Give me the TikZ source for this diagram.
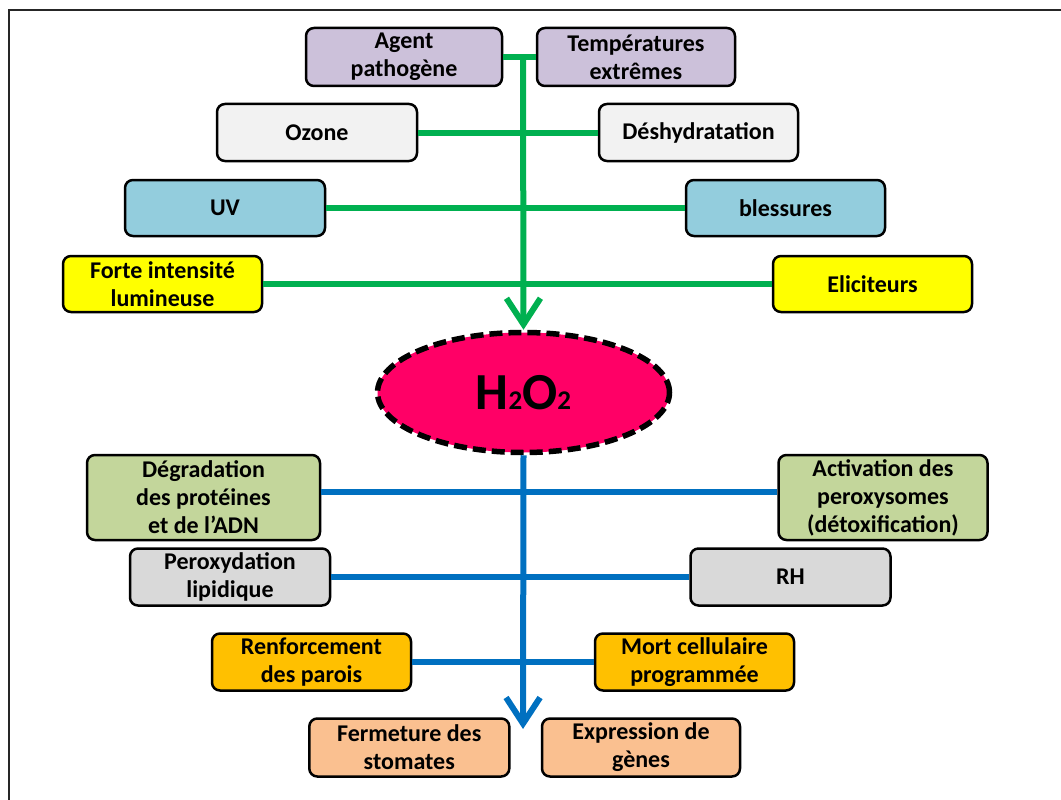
\documentclass[tikz,border=0pt]{standalone}
\usepackage{fontspec}
\setmainfont{Carlito}
\usetikzlibrary{arrows.meta,shapes.geometric}

\definecolor{lavender}{HTML}{CCC1DA}
\definecolor{paleGray}{HTML}{F2F2F2}
\definecolor{skyBlue}{HTML}{93CDDD}
\definecolor{brightYellow}{HTML}{FFFF00}
\definecolor{oliveGreen}{HTML}{C3D69B}
\definecolor{midGray}{HTML}{D9D9D9}
\definecolor{gold}{HTML}{FFC000}
\definecolor{peach}{HTML}{FAC090}
\definecolor{hotPink}{HTML}{FF0066}
\definecolor{causeGreen}{HTML}{00B050}
\definecolor{effectBlue}{HTML}{0070C0}

\tikzset{
  box/.style={draw=black, line width=2.5pt, rounded corners=8pt, align=center,
    inner sep=0pt, font=\fontsize{24}{28}\selectfont\bfseries},
  wbox/.style 2 args={box, minimum width=#1pt, minimum height=#2pt},
  cause/.style={draw=causeGreen, line width=6pt},
  effect/.style={draw=effectBlue, line width=6pt},
  barb/.style={-{Straight Barb[length=26pt, width=34pt]}},
}

\begin{document}
\begin{tikzpicture}[x=1pt, y=-1pt]
\useasboundingbox (0,0) rectangle (1061,800);

% outer frame
\draw[line width=1.5pt, black!85] (1061,10) -- (9,10) -- (9,800);

% central molecule
\node[ellipse, draw=black, fill=hotPink, line width=5.5pt, dash pattern=on 13pt off 6pt,
      minimum width=292pt, minimum height=120pt, inner sep=0pt,
      font=\fontsize{52}{52}\selectfont\bfseries] (h2o2) at (523.5,392.5)
      {H{\fontsize{27}{27}\selectfont 2}O{\fontsize{27}{27}\selectfont 2}};

% causes
\node[wbox={196}{58}, fill=lavender] (agent) at (404,57) {Agent\\pathogène};
\node[wbox={198}{58}, fill=lavender] (temp) at (636,57) {Températures\\extrêmes};
\node[wbox={200}{57}, fill=paleGray] (ozone) at (317,132.5) {Ozone};
\node[wbox={199}{57}, fill=paleGray] (desh) at (698.5,132.5) {Déshydratation};
\node[wbox={200}{56}, fill=skyBlue] (uv) at (225,208) {UV};
\node[wbox={199}{56}, fill=skyBlue] (bless) at (785.5,208) {blessures};
\node[wbox={199}{56}, fill=brightYellow] (forte) at (162.5,284) {Forte intensité\\lumineuse};
\node[wbox={199}{56}, fill=brightYellow] (elic) at (872.5,284) {Eliciteurs};

% effects
\node[wbox={233}{85}, fill=oliveGreen] (degr) at (203.5,497.5) {Dégradation\\des protéines\\et de l’ADN};
\node[wbox={209}{85}, fill=oliveGreen] (activ) at (883,497.5) {Activation des\\peroxysomes\\(détoxification)};
\node[wbox={200}{57}, fill=midGray] (perox) at (230,577) {Peroxydation\\lipidique};
\node[wbox={200}{57}, fill=midGray] (rh) at (790.5,577) {RH};
\node[wbox={199}{57}, fill=gold] (renf) at (311.5,662) {Renforcement\\des parois};
\node[wbox={199}{57}, fill=gold] (mort) at (694.5,662) {Mort cellulaire\\programmée};
\node[wbox={200}{58}, fill=peach] (ferm) at (409.3,747.5) {Fermeture des\\stomates};
\node[wbox={198}{58}, fill=peach] (expr) at (641,747.5) {Expression de\\gènes};

% junction points on the two trunks
\coordinate (top) at (523,57);
\coordinate (j1) at (523,492);
\coordinate (tip) at (523,729);

\begin{scope}[on background layer/.try]
% green trunk and branches
\draw[cause] (agent.east) -- (temp.west);
\draw[cause] (ozone.east) -- (desh.west);
\draw[cause] (uv.east) -- (bless.west);
\draw[cause] (forte.east) -- (elic.west);
\draw[cause, barb] (top) -- (h2o2.north);

% blue trunk and branches
\draw[effect] (degr.east |- j1) -- (activ.west |- j1);
\draw[effect] (perox.east) -- (rh.west);
\draw[effect] (renf.east) -- (mort.west);
\draw[effect, barb] (h2o2.south) -- (tip);
\end{scope}
\end{tikzpicture}
\end{document}
